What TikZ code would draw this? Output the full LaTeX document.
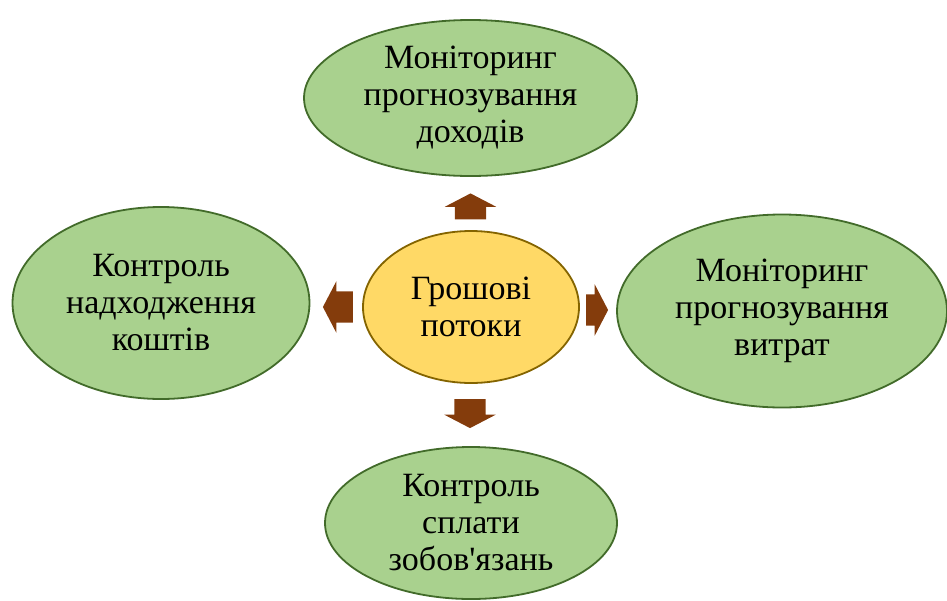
\documentclass[tikz,border=0pt]{standalone}
\usepackage{fontspec}
\newfontfamily\lsfont{Liberation Serif}
\usetikzlibrary{positioning,shapes.geometric,shapes.arrows}

\definecolor{leafgreen}{HTML}{A9D18E}
\definecolor{leafedge}{HTML}{426B2A}
\definecolor{hubfill}{HTML}{FFD966}
\definecolor{hubedge}{HTML}{846400}
\definecolor{arrowbrown}{HTML}{843C0C}

\begin{document}
\begin{tikzpicture}[x=1pt, y=-1pt,
    goal/.style={ellipse, draw=leafedge, fill=leafgreen, line width=1.8pt, inner sep=0pt,
        align=center, font=\lsfont\fontsize{34}{37}\selectfont},
    hub/.style={goal, draw=hubedge, fill=hubfill},
    pointer/.style={single arrow, fill=arrowbrown, draw=none, inner xsep=0pt, inner ysep=15.5pt,
        single arrow head extend=10pt, single arrow tip angle=125}]
    \useasboundingbox (0,0) rectangle (947,600);

    \node[hub, minimum width=216pt, minimum height=152pt] (flows) at (471,307) {Грошові\\потоки};

    \node[goal, minimum width=333pt, minimum height=156pt] (income) at (470.5,98) {Моніторинг\\прогнозування\\доходів};
    \node[goal, minimum width=297pt, minimum height=192pt] (receipts) at (161,303) {Контроль\\надходження\\коштів};
    \node[goal, minimum width=330pt, minimum height=193pt] (costs) at (782,311) {Моніторинг\\прогнозування\\витрат};
    \node[goal, minimum width=292pt, minimum height=152pt] (debts) at (471,523) {Контроль\\сплати\\зобов'язань};

    \node[pointer, rotate=90, minimum height=26pt] (toIncome) at (470.5,210.5) {};
    \node[pointer, rotate=180, minimum height=30pt] (toReceipts) at (342,307) {};
    \node[pointer, minimum height=22pt] (toCosts) at (593,310) {};
    \node[pointer, rotate=-90, minimum height=29pt] (toDebts) at (470,409.5) {};
\end{tikzpicture}
\end{document}
